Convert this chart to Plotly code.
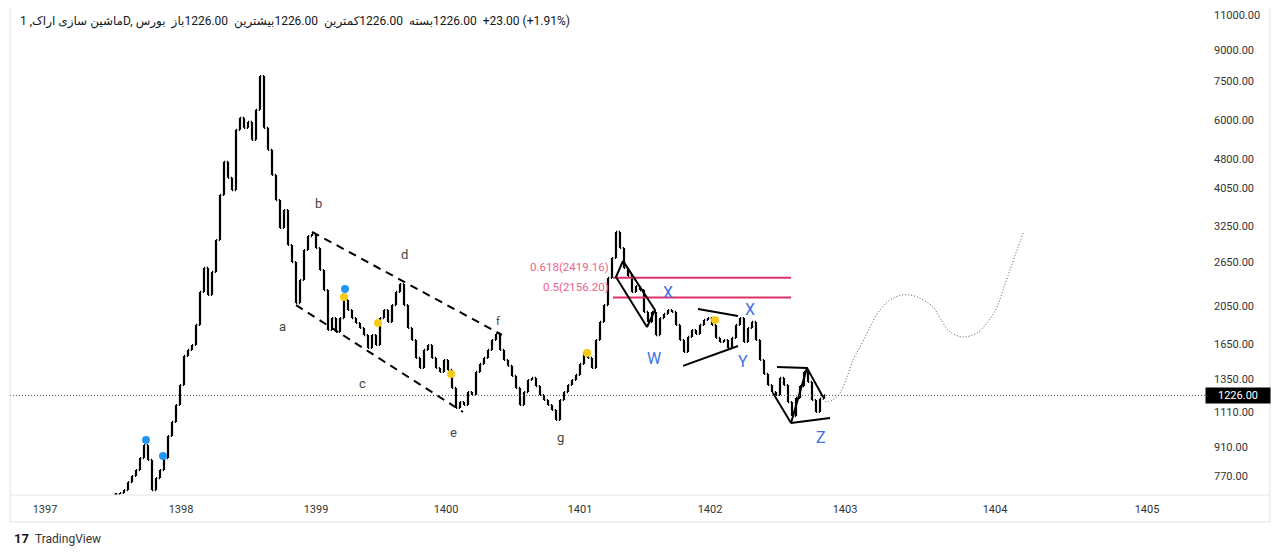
import math
import plotly.graph_objects as go

# daily closes (one bar every few sessions)
closes = [694, 698, 710, 743, 770, 797, 854, 921, 845, 710,
          761, 797, 854, 970, 1052, 1160, 1302, 1540, 1594, 1640,
          1841, 2228, 2559, 2189, 2500, 3006, 3898, 4719, 4302, 4010,
          5675, 6082, 5741, 5943, 5358, 6370, 7744, 5741, 5058, 4377,
          3785, 3221, 3573, 2920, 2647, 2089, 2386, 2837, 3075, 3111,
          2870, 2528, 2252, 1788, 1916, 1768, 1916, 2126, 2007, 1916,
          1862, 1809, 1737, 1612, 1737, 1640, 1916, 2007, 1873, 2065,
          2228, 2332, 2065, 1809, 1688, 1522, 1436, 1594, 1640, 1522,
          1436, 1404, 1504, 1420, 1280, 1140, 1180, 1160, 1250, 1229,
          1404, 1470, 1522, 1594, 1688, 1748, 1594, 1504, 1454, 1372,
          1280, 1160, 1250, 1340, 1356, 1294, 1229, 1194, 1160, 1127,
          1064, 1194, 1250, 1302, 1340, 1380, 1470, 1576, 1522, 1436,
          1688, 1873, 2065, 2415, 2709, 3150, 2870, 2559, 2443, 2228,
          2305, 2252, 1985, 1873, 1985, 1737, 1916, 1962, 2007, 1985,
          1841, 1688, 1576, 1718, 1788, 1748, 1841, 1895, 1916, 1841,
          1708, 1669, 1688, 1612, 1708, 1841, 1916, 1669, 1809, 1873,
          1688, 1504, 1388, 1302, 1250, 1229, 1356, 1302, 1180, 1089,
          1208, 1294, 1404, 1325, 1194, 1114, 1203, 1226]

years = ["1397", "1398", "1399", "1400", "1401", "1402", "1403", "1404", "1405"]
year_pos = [-17.75, 16.25, 50, 82.5, 116, 148.5, 182.25, 219.75, 257.75]

price_ticks = [770, 910, 1110, 1350, 1650, 2050, 2650, 3250, 4050, 4800, 6000, 7500, 9000, 11000]
last_price = 1226

# drawings (bar index, price)
chan_upper_x = [49, 96.5]
chan_upper_y = [3150, 1738]
chan_lower_x = [45, 86.75]
chan_lower_y = [2065, 1114]

wave_letters = ["a", "b", "c", "d", "e", "f", "g"]
wave_letters_x = [41.5, 50.5, 61.5, 72, 84.25, 95.5, 111]
wave_letters_y = [1830, 3720, 1317, 2772, 987, 1873, 959]

wxyz_text = ["X", "W", "X", "Y", "Z"]
wxyz_x = [138, 134.5, 158.5, 156.75, 176.25]
wxyz_y = [2215, 1513, 2018, 1495, 964]

fib_levels = [2419.16, 2156.20]
fib_names = ["0.618(2419.16)", "0.5(2156.20)"]
fib_x = [124.25, 168.75]

box1_x = [126.75, 134.75, 132.75, 125, 126.75]
box1_y = [2664, 2007, 1820, 2428, 2664]
tri_top_x = [145.5, 155.5]
tri_top_y = [2018, 1939]
tri_bot_x = [141.75, 155.5]
tri_bot_y = [1454, 1630]
end_a_x = [165.25, 172.75, 176.75]
end_a_y = [1445, 1437, 1215]
end_b_x = [164.25, 168.75, 172.75]
end_b_y = [1243, 1046, 1437]
end_c_x = [168.75, 178.5]
end_c_y = [1046, 1076]

blue_x = [7.5, 11.75, 57.25]
blue_y = [948, 864, 2266]
yellow_x = [57, 65.5, 83.75, 117.75, 149.75]
yellow_y = [2163, 1862, 1388, 1567, 1895]

proj_x = [177.25, 179.25, 181, 182.75, 184.25, 186, 187.75, 189, 191, 193.5, 196.75,
          200.25, 204.25, 206, 208.5, 211.75, 215.25, 217.75, 220.25, 221.75, 223.5,
          225.25, 227]
proj_y = [1182, 1194, 1243, 1364, 1504, 1621, 1758, 1862, 2007, 2126, 2190,
          2165, 2042, 1917, 1768, 1718, 1758, 1862, 2042, 2252, 2528,
          2837, 3168]

opens = [closes[0]] + closes[:-1]
idx = list(range(len(closes)))

fig = go.Figure()
fig.add_trace(go.Ohlc(
    x=idx, open=opens, close=closes,
    high=[max(o, c) for o, c in zip(opens, closes)],
    low=[min(o, c) for o, c in zip(opens, closes)],
    increasing=dict(line=dict(color="black", width=2.2)),
    decreasing=dict(line=dict(color="black", width=2.2)),
    tickwidth=0.3, hoverinfo="skip", showlegend=False))


def seg(xs, ys, color="black", width=2, dash="solid", shape="linear"):
    fig.add_trace(go.Scatter(x=xs, y=ys, mode="lines", showlegend=False, hoverinfo="skip",
                             line=dict(color=color, width=width, dash=dash, shape=shape)))


seg(chan_upper_x, chan_upper_y, dash="8px,6px")
seg(chan_lower_x, chan_lower_y, dash="8px,6px")
for lvl in fib_levels:
    seg(fib_x, [lvl, lvl], color="#e0306a", width=2)
seg(box1_x, box1_y)
seg(tri_top_x, tri_top_y)
seg(tri_bot_x, tri_bot_y)
seg(end_a_x, end_a_y)
seg(end_b_x, end_b_y)
seg(end_c_x, end_c_y)
seg(proj_x, proj_y, color="#555555", width=1, dash="1px,2px", shape="spline")

fig.add_trace(go.Scatter(x=blue_x, y=blue_y, mode="markers", showlegend=False, hoverinfo="skip",
                         marker=dict(color="#2196f3", size=8)))
fig.add_trace(go.Scatter(x=yellow_x, y=yellow_y, mode="markers", showlegend=False, hoverinfo="skip",
                         marker=dict(color="#f7cb15", size=8)))

# annotations on a log axis take log10 values
for t, x, y in zip(wave_letters, wave_letters_x, wave_letters_y):
    fig.add_annotation(x=x, y=math.log10(y), text=t, showarrow=False,
                       font=dict(size=13 if t != "f" else 11, color="#444444"))
for t, x, y in zip(wxyz_text, wxyz_x, wxyz_y):
    fig.add_annotation(x=x, y=math.log10(y), text=t, showarrow=False,
                       font=dict(size=16, color="#3f6fe6"))
for t, y in zip(fib_names, fib_levels):
    fig.add_annotation(x=fib_x[0] - 0.5, y=math.log10(y), text=t, showarrow=False,
                       xanchor="right", yanchor="bottom", yshift=2,
                       font=dict(size=11.5, color="#ef5f8c"))

# last price line and label
fig.add_shape(type="line", xref="paper", x0=0, x1=1, y0=last_price, y1=last_price,
              line=dict(color="#555555", width=1, dash="1px,2px"))
fig.add_annotation(xref="paper", x=1, y=math.log10(last_price), text="%.2f" % last_price,
                   showarrow=False, xanchor="left", bgcolor="black",
                   font=dict(color="white", size=11), width=62, height=13, borderpad=1)

# chart frame (left, right, bottom, and the time-axis separator)
frame = dict(color="#e0e3eb", width=1)
fig.add_shape(type="line", xref="paper", yref="paper", x0=0, x1=0, y0=-0.0554, y1=1, line=frame)
fig.add_shape(type="line", xref="paper", yref="paper", x0=1.0544, x1=1.0544, y0=-0.0554, y1=1,
              line=frame)
fig.add_shape(type="line", xref="paper", yref="paper", x0=0, x1=1.0544, y0=-0.0554, y1=-0.0554,
              line=frame)
fig.add_shape(type="line", xref="paper", yref="paper", x0=0, x1=1.0544, y0=0, y1=0, line=frame)

header = ("ماشین سازی اراک, 1D, بورس\u200e  "
          "باز\u200e1226.00\u200e  بیشترین\u200e1226.00\u200e  "
          "کمترین\u200e1226.00\u200e  بسته\u200e1226.00\u200e  +23.00 (+1.91%)")
fig.add_annotation(xref="paper", yref="paper", x=0.0067, y=0.9713, text=header, showarrow=False,
                   xanchor="left", yanchor="middle", font=dict(size=12, color="#131722"))
fig.add_annotation(xref="paper", yref="paper", x=0.0017, y=-0.0903, text="<b>17</b>",
                   showarrow=False, xanchor="left", yanchor="middle",
                   font=dict(size=13, color="#131722"))
fig.add_annotation(xref="paper", yref="paper", x=0.0192, y=-0.0903, text="TradingView",
                   showarrow=False, xanchor="left", yanchor="middle",
                   font=dict(size=12, color="#333333"))

# the page adds an 8px body margin, so the figure is 8px smaller each way
fig.update_layout(
    width=1272, height=549,
    margin=dict(l=2, r=75, t=0, b=62),
    paper_bgcolor="white", plot_bgcolor="white",
    font=dict(family="Roboto, DejaVu Sans, sans-serif", color="#131722"),
    xaxis=dict(range=[-26.5, 272.25], tickvals=year_pos, ticktext=years, showgrid=False,
               zeroline=False, rangeslider=dict(visible=False), ticklabelstandoff=6,
               tickfont=dict(size=11, color="#333333"), ticks=""),
    yaxis=dict(type="log", range=[2.8389, 4.0594], side="right", tickvals=price_ticks,
               ticktext=["%.2f" % v for v in price_ticks], showgrid=False, zeroline=False,
               tickfont=dict(size=11, color="#333333"), ticks="", ticklabelstandoff=8),
)

fig.write_html("out.html")
